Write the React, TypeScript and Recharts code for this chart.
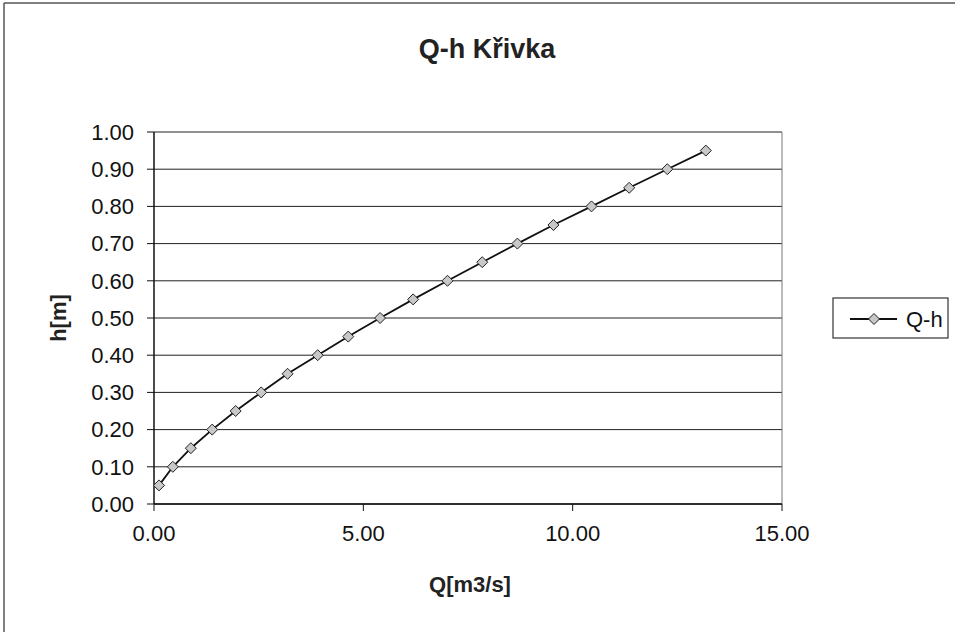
import React from "react";
import { LineChart, Line, XAxis, YAxis, CartesianGrid, ReferenceLine } from "recharts";

const qValues = [0.12, 0.45, 0.88, 1.39, 1.95, 2.56, 3.19, 3.91, 4.64, 5.4, 6.19, 7.01, 7.84, 8.68, 9.54, 10.45, 11.35, 12.26, 13.18];
const hValues = [0.05, 0.1, 0.15, 0.2, 0.25, 0.3, 0.35, 0.4, 0.45, 0.5, 0.55, 0.6, 0.65, 0.7, 0.75, 0.8, 0.85, 0.9, 0.95];
const xTicks = [0, 5, 10, 15];
const yTicks = [0, 0.1, 0.2, 0.3, 0.4, 0.5, 0.6, 0.7, 0.8, 0.9, 1.0];
const seriesName = "Q-h";
const title = "Q-h Křivka";
const xTitle = "Q[m3/s]";
const yTitle = "h[m]";

const data = qValues.map((q, i) => ({ q, h: hValues[i] }));

const FONT = "'Liberation Sans', Arial, sans-serif";

const Diamond = (props: any) => {
  const { cx, cy } = props;
  if (cx == null || cy == null) return null;
  const r = 5.5;
  return (
    <polygon
      points={`${cx},${cy - r} ${cx + r},${cy} ${cx},${cy + r} ${cx - r},${cy}`}
      fill="#c8c8c8"
      stroke="#222"
      strokeWidth={1}
    />
  );
};

export default function App() {
  return (
    <div style={{ position: "absolute", left: 0, top: 0, width: 955, height: 632, background: "#fff" }}>
      <LineChart
        width={955}
        height={632}
        data={data}
        margin={{ top: 132, right: 173, bottom: 98, left: 0 }}
      >
        <CartesianGrid horizontal={true} vertical={false} stroke="#222" strokeWidth={1} />
        <XAxis
          type="number"
          dataKey="q"
          domain={[0, 15]}
          ticks={xTicks}
          height={30}
          tickSize={7}
          tickMargin={14}
          stroke="#111"
          axisLine={{ stroke: "#111", strokeWidth: 1.5 }}
          tick={{ fill: "#111", fontSize: 22, fontFamily: FONT }}
          tickFormatter={(v: number) => v.toFixed(2)}
          allowDataOverflow
        />
        <YAxis
          type="number"
          domain={[0, 1]}
          ticks={yTicks}
          width={154}
          tickSize={7}
          tickMargin={13}
          stroke="#111"
          axisLine={{ stroke: "#111", strokeWidth: 1.5 }}
          tick={{ fill: "#111", fontSize: 22, fontFamily: FONT }}
          tickFormatter={(v: number) => v.toFixed(2)}
        />
        <ReferenceLine x={15} stroke="#777" strokeWidth={1} />
        <Line
          type="linear"
          dataKey="h"
          name={seriesName}
          stroke="#111"
          strokeWidth={1.8}
          dot={<Diamond />}
          activeDot={false}
          isAnimationActive={false}
        />
      </LineChart>
      <svg
        width={955}
        height={632}
        style={{ position: "absolute", left: 0, top: 0, pointerEvents: "none" }}
      >
        <line x1={4} y1={3} x2={955} y2={3} stroke="#555" strokeWidth={1.5} />
        <line x1={4} y1={3} x2={4} y2={632} stroke="#555" strokeWidth={1.5} />
        <text x={487} y={58} textAnchor="middle" fontFamily={FONT} fontSize={27} fontWeight="bold" fill="#222">
          {title}
        </text>
        <text x={470} y={592} textAnchor="middle" fontFamily={FONT} fontSize={22} fontWeight="bold" fill="#222">
          {xTitle}
        </text>
        <text
          x={66}
          y={318}
          textAnchor="middle"
          fontFamily={FONT}
          fontSize={22}
          fontWeight="bold"
          fill="#222"
          transform="rotate(-90 66 318)"
        >
          {yTitle}
        </text>
        <rect x={833} y={298} width={115} height={40} fill="#fff" stroke="#333" strokeWidth={1.2} />
        <line x1={850} y1={319} x2={897} y2={319} stroke="#111" strokeWidth={1.8} />
        <Diamond cx={874} cy={319} />
        <text x={906} y={327} fontFamily={FONT} fontSize={22} fill="#111">
          {seriesName}
        </text>
      </svg>
    </div>
  );
}
